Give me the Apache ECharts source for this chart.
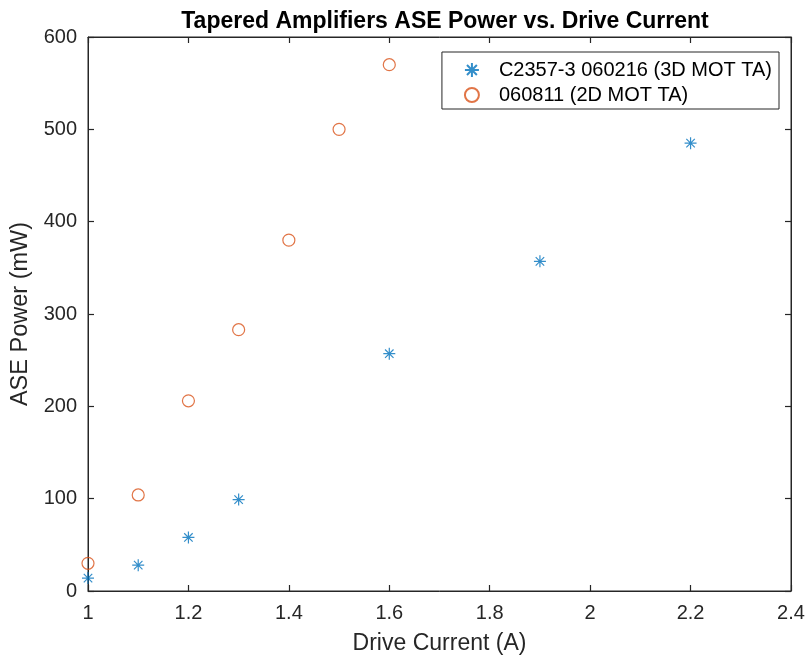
<!DOCTYPE html>
<html><head><meta charset="utf-8">
<script src="https://cdn.jsdelivr.net/npm/echarts@6/dist/echarts.min.js"></script>
<style>html,body{margin:0;padding:0;background:#fff}#c{width:809px;height:660px}</style>
</head><body><div id="c"></div>
<script>
const titleText = 'Tapered Amplifiers ASE Power vs. Drive Current';
const xName = 'Drive Current (A)';
const yName = 'ASE Power (mW)';
const seriesNames = ['C2357-3 060216 (3D MOT TA)', '060811 (2D MOT TA)'];
const ta3dX = [1.0, 1.1, 1.2, 1.3, 1.6, 1.9, 2.2];
const ta3dY = [14, 28, 58, 99, 257, 357, 485];
const ta2dX = [1.0, 1.1, 1.2, 1.3, 1.4, 1.5, 1.6];
const ta2dY = [30, 104, 206, 283, 380, 500, 570];

const star = 'path://M0,-10L0,10M-10,0L10,0M-7.07,-7.07L7.07,7.07M-7.07,7.07L7.07,-7.07';
const font = 'Liberation Sans, Arial, sans-serif';
const axisCol = '#262626';
const fmt = v => String(+v.toFixed(1));
const tick = {show: true, inside: true, length: 6, lineStyle: {color: axisCol, width: 1.2}};
const chart = echarts.init(document.getElementById('c'));
chart.setOption({
  animation: false,
  backgroundColor: '#fff',
  title: {text: titleText, left: 440, top: 5, textAlign: 'center',
    textStyle: {fontFamily: font, fontSize: 23, fontWeight: 'bold', color: '#000'}},
  grid: {left: 88, right: 18, top: 37, bottom: 68, show: true, borderColor: axisCol, borderWidth: 1, backgroundColor: 'transparent'},
  legend: {
    orient: 'vertical', right: 30, top: 52, itemGap: 5,
    backgroundColor: '#fff', borderColor: axisCol, borderWidth: 1,
    padding: [8, 7, 4, 22], itemWidth: 14, itemHeight: 14,
    textStyle: {fontFamily: font, fontSize: 20, lineHeight: 20, color: '#000', padding: [0,0,0,15]}
  },
  xAxis: [{
    type: 'value', min: 1, max: 2.4, interval: 0.2,
    name: xName, nameLocation: 'middle', nameGap: 41,
    nameTextStyle: {fontFamily: font, fontSize: 23, color: axisCol},
    axisLine: {show: true, onZero: false, lineStyle: {color: axisCol}},
    axisTick: tick,
    axisLabel: {fontFamily: font, fontSize: 20, color: axisCol, formatter: fmt, margin: 12},
    splitLine: {show: false}
  }, {
    type: 'value', position: 'top', min: 1, max: 2.4, interval: 0.2,
    axisLine: {show: true, onZero: false, lineStyle: {color: axisCol}},
    axisTick: tick,
    axisLabel: {show: false}, splitLine: {show: false}
  }],
  yAxis: [{
    type: 'value', min: 0, max: 600, interval: 100,
    name: yName, nameLocation: 'middle', nameGap: 52,
    nameTextStyle: {fontFamily: font, fontSize: 23.5, color: axisCol},
    axisLine: {show: true, onZero: false, lineStyle: {color: axisCol}},
    axisTick: tick,
    axisLabel: {fontFamily: font, fontSize: 20, color: axisCol, margin: 11},
    splitLine: {show: false}
  }, {
    type: 'value', position: 'right', min: 0, max: 600, interval: 100,
    axisLine: {show: true, onZero: false, lineStyle: {color: axisCol}},
    axisTick: tick,
    axisLabel: {show: false}, splitLine: {show: false}
  }],
  series: [{
    name: seriesNames[0], type: 'scatter', symbol: star, symbolSize: 12,
    itemStyle: {color: 'transparent', borderColor: '#0072BD', borderWidth: 1.2},
    data: ta3dX.map((x, i) => [x, ta3dY[i]])
  }, {
    name: seriesNames[1], type: 'scatter', symbol: 'circle', symbolSize: 12,
    itemStyle: {color: 'transparent', borderColor: '#D95319', borderWidth: 1.2},
    data: ta2dX.map((x, i) => [x, ta2dY[i]])
  }]
});
</script></body></html>
